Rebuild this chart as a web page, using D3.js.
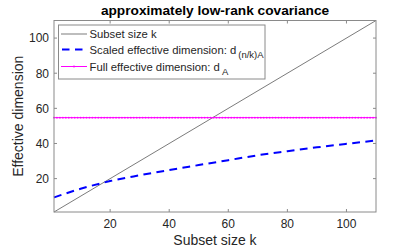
<!DOCTYPE html>
<html>
<head>
<meta charset="utf-8">
<script src="https://cdn.jsdelivr.net/npm/d3@7"></script>
<style>
	body { margin: 0; background: #fff; }
	text { font-family: "Liberation Sans", Arial, sans-serif; fill: #262626; }
</style>
</head>
<body>
<script>
// values
let kSamples = [1, 10, 20, 30, 40, 50, 60, 70, 80, 90, 100, 110]
let scaledDim = [9.3, 14.2, 18.6, 21.9, 24.9, 27.7, 30.5, 33.3, 35.6, 37.8, 39.8, 41.7]
let fullDim = 54.7
let kRange = [1, 110]
let xTicks = [20, 40, 60, 80, 100]
let yTicks = [20, 40, 60, 80, 100]
let legendLabels = ['Subset size k', 'Scaled effective dimension: d', 'Full effective dimension: d']
let legendSubs = ['', '(n/k)A', 'A']

let W = 415, H = 249
let pLeft = 54, pRight = 376, pTop = 20.5, pBottom = 212

let svg = d3.select('body').append('svg')
	.attr('width', W).attr('height', H)

let x = d3.scaleLinear().domain(kRange).range([pLeft, pRight])
let y = d3.scaleLinear().domain(kRange).range([pBottom, pTop])

let axisColor = '#8a8a8a'

// ticks (inward, MATLAB style, on all four sides)
let g = svg.append('g')
for (let t of xTicks) {
	g.append('line').attr('x1', x(t)).attr('x2', x(t)).attr('y1', pBottom).attr('y2', pBottom - 3)
		.attr('stroke', axisColor)
	g.append('line').attr('x1', x(t)).attr('x2', x(t)).attr('y1', pTop).attr('y2', pTop + 3)
		.attr('stroke', axisColor)
	g.append('text').attr('x', x(t)).attr('y', 227.5)
		.attr('text-anchor', 'middle').style('font-size', '12px').text(t)
}
for (let t of yTicks) {
	g.append('line').attr('y1', y(t)).attr('y2', y(t)).attr('x1', pLeft).attr('x2', pLeft + 3)
		.attr('stroke', axisColor)
	g.append('line').attr('y1', y(t)).attr('y2', y(t)).attr('x1', pRight).attr('x2', pRight - 3)
		.attr('stroke', axisColor)
	g.append('text').attr('x', 49).attr('y', y(t) + 4.3)
		.attr('text-anchor', 'end').style('font-size', '12px').text(t)
}

// lines
let line = d3.line().x(d => x(d[0])).y(d => y(d[1]))

svg.append('path')
	.attr('d', line(kRange.map(k => [k, k])))
	.attr('fill', 'none').attr('stroke', '#222').attr('stroke-width', 0.6)

svg.append('path')
	.attr('d', d3.line().curve(d3.curveMonotoneX).x(d => x(d[0])).y(d => y(d[1]))(kSamples.map((k, i) => [k, scaledDim[i]])))
	.attr('fill', 'none').attr('stroke', '#0000ff').attr('stroke-width', 2)
	.attr('stroke-dasharray', '7.8,5.4')

svg.append('path')
	.attr('d', line(kRange.map(k => [k, fullDim])))
	.attr('fill', 'none').attr('stroke', '#ff00ff').attr('stroke-width', 1)
svg.append('g').selectAll('circle')
	.data(d3.range(kRange[0], kRange[1] + 1))
	.join('circle')
	.attr('cx', d => x(d)).attr('cy', y(fullDim)).attr('r', 0.9)
	.attr('fill', '#ff00ff')

// box
svg.append('rect')
	.attr('x', pLeft).attr('y', pTop).attr('width', pRight - pLeft).attr('height', pBottom - pTop)
	.attr('fill', 'none').attr('stroke', axisColor).attr('stroke-width', 1)

// legend
let lg = svg.append('g')
lg.append('rect')
	.attr('x', 58.5).attr('y', 25).attr('width', 206.5).attr('height', 54)
	.attr('fill', '#fff').attr('stroke', axisColor)
let rowY = [34, 49.5, 66.5]
lg.append('line').attr('x1', 61).attr('x2', 87).attr('y1', rowY[0]).attr('y2', rowY[0])
	.attr('stroke', '#222').attr('stroke-width', 0.6)
lg.append('line').attr('x1', 61).attr('x2', 87).attr('y1', rowY[1]).attr('y2', rowY[1])
	.attr('stroke', '#0000ff').attr('stroke-width', 2).attr('stroke-dasharray', '7.5,5.5')
	.attr('stroke-dashoffset', -1)
lg.append('line').attr('x1', 61).attr('x2', 87).attr('y1', rowY[2]).attr('y2', rowY[2])
	.attr('stroke', '#ff00ff').attr('stroke-width', 1)
lg.append('circle').attr('cx', 74).attr('cy', rowY[2]).attr('r', 1).attr('fill', '#ff00ff')
legendLabels.forEach((lab, i) => {
	let t = lg.append('text').attr('x', 89.5).attr('y', rowY[i] + 4).style('font-size', '11.3px')
	t.append('tspan').text(lab)
	if (legendSubs[i]) {
		t.append('tspan').attr('dx', 2).attr('dy', 4).style('font-size', '9.5px').text(legendSubs[i])
	}
})

// titles
svg.append('text').attr('x', (pLeft + pRight) / 2).attr('y', 15)
	.attr('text-anchor', 'middle').style('font-size', '13.7px').style('font-weight', 'bold')
	.style('fill', '#000')
	.text('approximately low-rank covariance')
svg.append('text').attr('x', (pLeft + pRight) / 2).attr('y', 245)
	.attr('text-anchor', 'middle').style('font-size', '14px')
	.text('Subset size k')
svg.append('text').attr('transform', `translate(23,${(pTop + pBottom) / 2}) rotate(-90)`)
	.attr('text-anchor', 'middle').style('font-size', '14px')
	.text('Effective dimension')
</script>
</body>
</html>
